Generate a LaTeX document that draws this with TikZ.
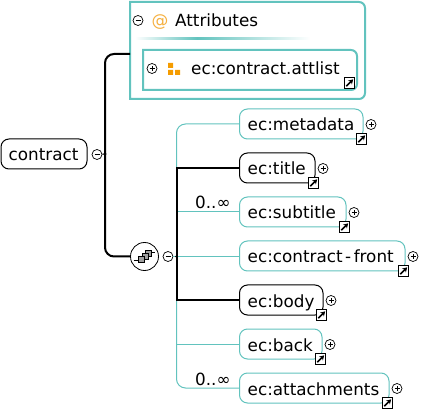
\documentclass[tikz,border=0pt]{standalone}
\usepackage{fontspec}
\setmainfont{DejaVu Sans}
\usetikzlibrary{arrows.meta}
\definecolor{tealc}{HTML}{62C3BE}
\definecolor{orangec}{HTML}{F59C00}
\definecolor{atc}{HTML}{F5B040}
\tikzset{
  x=1pt,y=-1pt,
  lab/.style={font=\fontsize{16.8}{20}\selectfont,inner sep=0pt,text=black},
  elem/.style={draw,rounded corners=8pt,line width=1pt,minimum height=30pt,inner sep=0pt,fill=white},
  req/.style={elem,draw=black},
  opt/.style={elem,draw=tealc},
  thinconn/.style={draw=tealc,line width=1pt,rounded corners=9pt},
  boldconn/.style={draw=black,line width=2pt,rounded corners=9pt},
  widebox/.style={draw=tealc,line width=2pt},
  ctrl/.style={circle,draw=black,line width=0.7pt,fill=white,minimum size=10pt,inner sep=0pt},
  plusc/.style={ctrl,path picture={\draw[line width=0.7pt] ([xshift=-2.5pt]path picture bounding box.center) -- ([xshift=2.5pt]path picture bounding box.center) ([yshift=-2.5pt]path picture bounding box.center) -- ([yshift=2.5pt]path picture bounding box.center);}},
  minusc/.style={ctrl,path picture={\draw[line width=0.7pt] ([xshift=-2.5pt]path picture bounding box.center) -- ([xshift=2.5pt]path picture bounding box.center);}},
  linkbox/.style={draw=black,line width=1pt,fill=white,minimum size=10.5pt,inner sep=0pt,path picture={\draw[line width=1.6pt,-{Stealth[length=4.5pt,width=5.5pt]}] ([xshift=-3.2pt,yshift=-3.2pt]path picture bounding box.center) -- ([xshift=3.6pt,yshift=3.6pt]path picture bounding box.center);}},
  orsq/.style={fill=orangec,draw=none},
  grsq/.style={fill=gray!75,draw=black,line width=0.5pt},
}
\newcommand{\elembox}[6]{% name, style, x0, x1, yc, text
  \node[#2,minimum width={#4-#3}] (#1) at ({(#3+#4)/2},#5) {};
  \node[lab,anchor=base west] (#1label) at ({#3+8},{#5+7}) {#6};
  \node[linkbox] (#1link) at ({#4-1.5},{#5+15}) {};
  \node[plusc] (#1plus) at ({#4+8},{#5+0.5}) {};
}
\begin{document}
\begin{tikzpicture}
\useasboundingbox (0,0) rectangle (437,409);
% junctions
\coordinate (attrin) at (130,54);
\coordinate (cj) at (105,154);
\coordinate (tj) at (176.5,256.5);
% outer attributes box
\draw[widebox] (130,99) [sharp corners] -- (130,2) [rounded corners=6pt] -- (365,2) -- (365,99) [sharp corners] -- cycle;
\node[minusc] (attrminus) at (138,20.5) {};
\node[lab,text=atc,anchor=base] (attrat) at (160,27) {@};
\node[lab,anchor=base west] (attrlabel) at (175,27) {Attributes};
\shade[left color=white,right color=tealc] (135,38) rectangle (197,40);
\shade[left color=tealc,right color=white] (197,38) rectangle (310,40);
% inner attlist box
\draw[widebox] (143,90) [sharp corners] -- (143,50) [rounded corners=6pt] -- (357,50) -- (357,90) [sharp corners] -- cycle;
\node[plusc] (attlistplus) at (152,68.5) {};
\fill[orsq] (168,63) rectangle (173,68) (168,70) rectangle (173,75) (175,70) rectangle (180,75);
\node[lab,anchor=base west] (attlistlabel) at (191,75) {ec:contract.attlist};
\node[linkbox] (attlistlink) at (349.5,83) {};
% root
\node[req,minimum width=86pt] (contract) at (44,154) {};
\node[lab,anchor=base] (contractlabel) at (43.5,161) {contract};
\node[minusc] (contractminus) at (97,154.5) {};
% group
\node[circle,draw=black,line width=0.8pt,fill=white,minimum size=28pt,inner sep=0pt] (group) at (144.5,256.5) {};
\node[minusc] (groupminus) at (168,256.5) {};
% connectors
\draw[line width=1pt] (contractminus) -- (cj);
\fill (cj) circle (1.6pt);
\draw[boldconn] (attrin) -- (cj|-attrin) -- (cj|-group) -- (group.west);
\coordinate (m1) at (240,124);
\coordinate (m7) at (240,388);
\draw[thinconn] (m1) -- (tj|-m1) -- (tj|-m7) -- (m7);
\draw[thinconn,rounded corners=0pt] (tj|-0,212) -- (240,212);
\draw[thinconn,rounded corners=0pt] (groupminus) -- (240,256.5);
\draw[thinconn,rounded corners=0pt] (tj|-0,344) -- (240,344);
\draw[boldconn,rounded corners=0pt] (240,168) -- (tj|-0,168) -- (tj|-0,300) -- (240,300);
\fill (tj) circle (1.4pt);
% group icon
\draw[line width=0.8pt] (133.5,260) -- (139,260) (151,252.5) -- (154.5,252.5);
\draw[grsq] (145.3,250) rectangle (151.3,256);
\draw[grsq] (142.3,253.3) rectangle (148,259.3);
\draw[grsq] (138.7,256.7) rectangle (144.7,262.7);
% elements
\elembox{meta}{opt}{239.5}{363}{124}{ec:metadata}
\elembox{title}{req}{239.5}{315}{168}{ec:title}
\elembox{subtitle}{opt}{239.5}{346}{212}{ec:subtitle}
\elembox{front}{opt}{239.5}{405}{256}{ec:contract\kern2.5pt-\kern2.5pt front}
\elembox{body}{req}{239.5}{323}{300}{ec:body}
\elembox{back}{opt}{239.5}{322}{344}{ec:back}
\elembox{attach}{opt}{239.5}{389}{388}{ec:attachments}
\node[lab,anchor=base west] (subcard) at (195,209) {0..∞};
\node[lab,anchor=base west] (attcard) at (195,385.5) {0..∞};
\end{tikzpicture}
\end{document}
